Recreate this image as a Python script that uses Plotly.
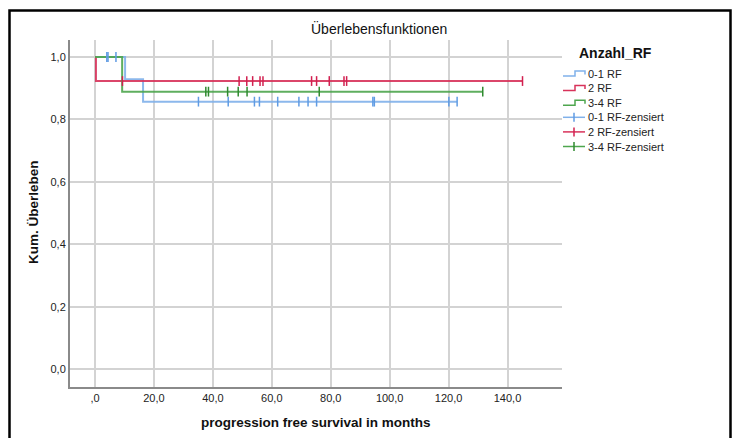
import plotly.graph_objects as go

# ---------------- data ----------------
groups = ["0-1 RF", "2 RF", "3-4 RF"]
colors = ["#80b1ea", "#d8325a", "#4ea64e"]
mark_colors = ["#5f9be3", "#d22050", "#2f8a2f"]

# Kaplan-Meier step curves (time in months, cumulative survival)
km_x_01 = [0, 10.2, 16.3, 122.9]
km_y_01 = [1.0, 0.929, 0.857, 0.857]
km_x_2 = [0, 0.3, 145.1]
km_y_2 = [1.0, 0.923, 0.923]
km_x_34 = [0, 9.2, 131.6]
km_y_34 = [1.0, 0.889, 0.889]

# censored observations
cens_x_01 = [4.0, 4.4, 7.1, 35.1, 45.2, 54.1, 55.8, 62.0, 69.2, 72.3, 75.2, 94.3, 94.8, 120.1, 122.9]
cens_y_01 = [1.0, 1.0, 1.0, 0.857, 0.857, 0.857, 0.857, 0.857, 0.857, 0.857, 0.857, 0.857, 0.857, 0.857, 0.857]
cens_x_2 = [9.3, 48.9, 51.5, 53.5, 56.0, 57.0, 73.5, 75.2, 79.5, 84.5, 85.4, 145.1]
cens_y_2 = [0.923] * 12
cens_x_34 = [37.6, 38.5, 45.0, 48.6, 51.6, 76.1, 131.6]
cens_y_34 = [0.889] * 7

x_tickvals = [0, 20, 40, 60, 80, 100, 120, 140]
x_ticktext = [",0", "20,0", "40,0", "60,0", "80,0", "100,0", "120,0", "140,0"]
y_tickvals = [0, 0.2, 0.4, 0.6, 0.8, 1.0]
y_ticktext = ["0,0", "0,2", "0,4", "0,6", "0,8", "1,0"]

legend_labels = ["0-1 RF", "2 RF", "3-4 RF", "0-1 RF-zensiert", "2 RF-zensiert", "3-4 RF-zensiert"]

# ---------------- layout geometry ----------------
W, H = 737, 438
L, R, T, B = 70, 562, 40, 387   # plot area in pixels


def px(xp):
    return (xp - L) / (R - L)


def py(yp):
    return (B - yp) / (B - T)


FONT = "Liberation Sans, Arial, sans-serif"

fig = go.Figure()

km = [(km_x_01, km_y_01), (km_x_2, km_y_2), (km_x_34, km_y_34)]
cens = [(cens_x_01, cens_y_01), (cens_x_2, cens_y_2), (cens_x_34, cens_y_34)]

for i, (xs, ys) in enumerate(km):
    fig.add_trace(go.Scatter(x=xs, y=ys, mode="lines", line=dict(shape="hv", color=colors[i], width=2),
                             showlegend=False, hoverinfo="skip", opacity=0.9))
for i, (xs, ys) in enumerate(cens):
    fig.add_trace(go.Scatter(x=xs, y=ys, mode="markers",
                             marker=dict(symbol="line-ns", size=7, line=dict(color=mark_colors[i], width=1.5)),
                             showlegend=False, hoverinfo="skip"))

fig.update_layout(
    width=W, height=H,
    margin=dict(l=L, r=W - R, t=T, b=H - B),
    paper_bgcolor="white", plot_bgcolor="white",
    font=dict(family=FONT, size=11, color="#222"),
    xaxis=dict(range=[-8.5, 158.5], tickvals=x_tickvals, ticktext=x_ticktext,
               showgrid=True, gridcolor="#d3d3d3", gridwidth=1.5, zeroline=False,
               showline=True, linecolor="#8a8a8a", linewidth=2, ticks="", fixedrange=True),
    yaxis=dict(range=[-0.0567, 1.0544], tickvals=y_tickvals, ticktext=y_ticktext,
               showgrid=True, gridcolor="#d3d3d3", gridwidth=1.5, zeroline=False,
               showline=True, linecolor="#8a8a8a", linewidth=2, ticks="", fixedrange=True),
    showlegend=False,
)


def ann(text, xp, yp, size, anchor="center", angle=0, color="#111"):
    return dict(text=text, x=px(xp), y=py(yp), xref="paper", yref="paper", showarrow=False,
                textangle=angle, font=dict(size=size, color=color, family=FONT),
                xanchor=anchor, yanchor="middle")


annotations = [
    ann("Überlebensfunktionen", 379, 28, 14),
    ann("<b>progression free survival in months</b>", 316, 422, 13.5),
    ann("<b>Kum. Überleben</b>", 33, 212, 13.5, angle=-90),
    ann("<b>Anzahl_RF</b>", 577, 53, 14, anchor="left"),
]

shapes = []
item_y = [73.5 + 14.6 * k for k in range(6)]
for k, label in enumerate(legend_labels):
    yy = item_y[k]
    annotations.append(ann(label, 586, yy, 11, anchor="left", color="#222"))
    if k < 3:
        path = "M {} {} L {} {} L {} {} L {} {} L {} {}".format(
            px(563), py(yy + 2.5), px(575), py(yy + 2.5), px(575), py(yy - 2.5),
            px(585), py(yy - 2.5), px(585), py(yy + 1))
        shapes.append(dict(type="path", path=path, xref="paper", yref="paper",
                           line=dict(color=colors[k], width=1.5)))
    else:
        shapes.append(dict(type="line", xref="paper", yref="paper", x0=px(563), x1=px(585),
                           y0=py(yy), y1=py(yy), line=dict(color=colors[k - 3], width=1.5)))
        shapes.append(dict(type="line", xref="paper", yref="paper", x0=px(574), x1=px(574),
                           y0=py(yy - 4.5), y1=py(yy + 4.5), line=dict(color=mark_colors[k - 3], width=1.5)))

# outer frame
shapes.append(dict(type="path", xref="paper", yref="paper",
                   path="M {} {} L {} {} L {} {} L {} {}".format(px(9.5), py(450), px(9.5), py(10.5),
                                                                 px(730.5), py(10.5), px(730.5), py(450)),
                   line=dict(color="black", width=2.5)))

fig.update_layout(annotations=annotations, shapes=shapes)
fig.write_html("out.html")
